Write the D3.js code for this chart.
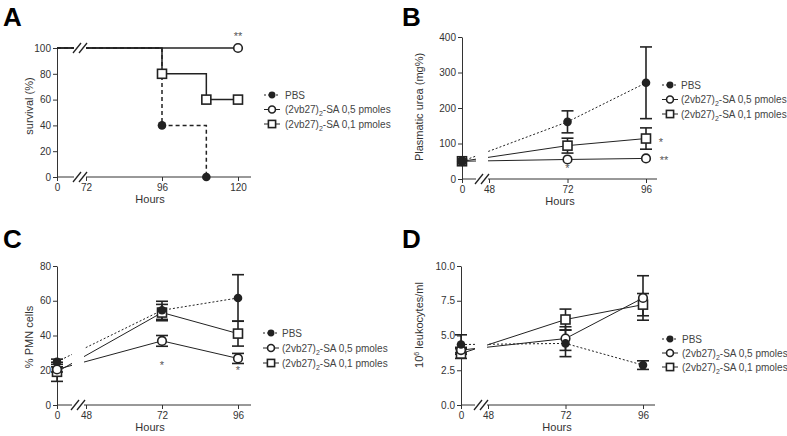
<!DOCTYPE html>
<html>
<head>
<meta charset="utf-8">
<script src="https://cdn.jsdelivr.net/npm/d3@7"></script>
<style>
  body { margin: 0; background: #fff; }
  svg { font-family: "Liberation Sans", Arial, sans-serif; }
  .tick text { fill: #333; font-size: 10px; }
  .tick line { stroke: #333; }
  .domain { stroke: #333; }
</style>
</head>
<body>
<div id="chart"></div>
<script>
// ---------- data ----------
var seriesNames = ["PBS", "0,5", "0,1"];

// A: survival (%), Kaplan-Meier steps
var survTicksX = [0, 72, 96, 120];
var survPBS = [[0, 100], [96, 40], [110, 0]];
var surv05 = [[0, 100], [120, 100]];
var surv01 = [[0, 100], [96, 80], [110, 60], [120, 60]];
var survMarkPBS = [[96, 40], [110, 0]];
var survMark05 = [[120, 100]];
var survMark01 = [[96, 80], [110, 60], [120, 60]];

// B, C, D share sampling times
var hours = [0, 72, 96];
var hourTicks = [0, 48, 72, 96];

// B: plasmatic urea (mg%)
var ureaPBS = [50, 161, 271], ureaPBSerr = [0, 31, 101];
var urea05 = [50, 55, 58], urea05err = [0, 0, 0];
var urea01 = [50, 94, 114], urea01err = [0, 21, 30];

// C: % PMN cells
var pmnPBS = [24.9, 54.5, 61.6], pmnPBSerr = [1.5, 5.2, 13.4];
var pmn05 = [20.5, 36.9, 26.8], pmn05err = [1.5, 3.1, 2.9];
var pmn01 = [19.1, 53.2, 41.1], pmn01err = [5.5, 4.7, 7.2];

// D: 10^6 leukocytes/ml
var leuPBS = [4.35, 4.43, 2.87], leuPBSerr = [0.7, 0.95, 0.31];
var leu05 = [3.95, 4.78, 7.7], leu05err = [0.2, 0.85, 1.6];
var leu01 = [3.7, 6.15, 7.22], leu01err = [0.35, 0.75, 0.8];

// ---------- svg ----------
var svg = d3.select("#chart").append("svg")
  .attr("width", 787)
  .attr("height", 436);

var ink = "#222";

function marker(g, kind, cx, cy, s) {
  s = s || 1;
  if (kind == "PBS") {
    g.append("circle").attr("cx", cx).attr("cy", cy).attr("r", 4.3 * s)
      .attr("fill", ink);
  } else if (kind == "0,5") {
    g.append("circle").attr("cx", cx).attr("cy", cy).attr("r", 4.3 * s)
      .attr("fill", "#fff").attr("stroke", ink).attr("stroke-width", 1.6);
  } else {
    g.append("rect").attr("x", cx - 4.5 * s).attr("y", cy - 4.5 * s)
      .attr("width", 9 * s).attr("height", 9 * s)
      .attr("fill", "#fff").attr("stroke", ink).attr("stroke-width", 1.6);
  }
}

// axes + break for one panel
function frame(p) {
  var g = svg.append("g");
  var y = p.y, x = p.x;
  var x0 = x.range()[0], yb = y.range()[0];

  g.append("g")
    .attr("transform", `translate(${x0},0)`)
    .call(d3.axisLeft(y).tickValues(p.yTicks).tickSize(4).tickSizeOuter(0)
      .tickPadding(2).tickFormat(p.yFormat || d3.format("d")));

  var xa = g.append("g")
    .attr("transform", `translate(0,${yb})`)
    .call(d3.axisBottom(x).tickValues(p.xTicks).tickSize(4).tickSizeOuter(0).tickPadding(3));
  xa.select(".domain").remove();
  g.append("line").attr("x1", x0).attr("x2", p.axisEnd)
    .attr("y1", yb).attr("y2", yb).attr("stroke", "#333");

  // axis titles
  g.append("text")
    .attr("x", p.xTitleX).attr("y", yb + 26)
    .attr("text-anchor", "middle").attr("font-size", 11).attr("fill", "#333")
    .text("Hours");
  var yt = g.append("text")
    .attr("transform", `translate(${p.yTitleX},${p.yTitleY}) rotate(-90)`)
    .attr("text-anchor", "middle").attr("font-size", 11).attr("fill", "#333");
  p.yTitle(yt);

  // panel letter
  svg.append("text").attr("x", p.letterX).attr("y", p.letterY)
    .attr("font-size", 26).attr("font-weight", "bold").attr("fill", "#000")
    .text(p.letter);
  return g;
}

function breakMarks(g, bx, yLine, top) {
  // white mask cuts lines and axis
  g.append("rect").attr("x", bx - 6).attr("y", top)
    .attr("width", 12).attr("height", yLine - top + 2).attr("fill", "#fff");
}

function slashes(g, bx, yy) {
  [-3, 3].forEach(function(o) {
    g.append("line")
      .attr("x1", bx + o - 4).attr("y1", yy + 5)
      .attr("x2", bx + o + 4).attr("y2", yy - 5)
      .attr("stroke", ink).attr("stroke-width", 1.3);
  });
}

function legend(g, lx, tx, y0, dy) {
  seriesNames.forEach(function(s, i) {
    var yy = y0 + i * dy;
    g.append("line").attr("x1", lx - 8).attr("x2", lx + 8)
      .attr("y1", yy).attr("y2", yy).attr("stroke", ink).attr("stroke-width", 1)
      .attr("stroke-dasharray", s == "PBS" ? "2,2" : null);
    marker(g, s, lx, yy, 0.8);
    var t = g.append("text").attr("x", tx).attr("y", yy + 3.5)
      .attr("font-size", 10).attr("fill", "#444");
    if (s == "PBS") { t.text("PBS"); return; }
    t.append("tspan").text("(2vb27)");
    t.append("tspan").attr("font-size", 7).attr("dy", 3).text("2");
    t.append("tspan").attr("dy", -3).text("-SA " + s + " pmoles");
  });
}

function star(g, x, y, s) {
  g.append("text").attr("x", x).attr("y", y).attr("text-anchor", "middle")
    .attr("font-size", 11).attr("fill", "#555").text(s);
}

// series over hours with sem bars
function drawSeries(g, x, y, data) {
  var line = d3.line().x((d, i) => x(hours[i])).y(d => y(d));
  data.forEach(function(d) {
    g.append("path").datum(d.v).attr("d", line).attr("fill", "none")
      .attr("stroke", ink).attr("stroke-width", 1)
      .attr("stroke-dasharray", d.name == "PBS" ? "2,2" : null);
  });
  return function() {
    data.forEach(function(d) {
      d.v.forEach(function(v, i) {
        if (!d.e[i]) return;
        var cx = x(hours[i]), hi = y(v + d.e[i]), lo = y(v - d.e[i]);
        g.append("line").attr("x1", cx).attr("x2", cx).attr("y1", hi).attr("y2", lo)
          .attr("stroke", ink).attr("stroke-width", 1.6);
        [hi, lo].forEach(function(yy) {
          g.append("line").attr("x1", cx - 6).attr("x2", cx + 6).attr("y1", yy).attr("y2", yy)
            .attr("stroke", ink).attr("stroke-width", 1.6);
        });
      });
    });
    data.slice().reverse().forEach(function(d) {
      d.v.forEach(function(v, i) { marker(g, d.name, x(hours[i]), y(v)); });
    });
  };
}

// ---------- A ----------
var xA = d3.scaleLinear().domain([0, 72, 120]).range([57, 86, 238]);
var yA = d3.scaleLinear().domain([0, 100]).range([177, 48]);
var gA = frame({
  x: xA, y: yA, xTicks: survTicksX, yTicks: [0, 20, 40, 60, 80, 100], axisEnd: 251,
  xTitleX: 150, yTitleX: 33, yTitleY: 106, letter: "A", letterX: 3, letterY: 26,
  yTitle: t => t.text("survival (%)")
});
var step = d3.line().curve(d3.curveStepAfter).x(d => xA(d[0])).y(d => yA(d[1]));
gA.append("path").datum(survPBS).attr("d", step).attr("fill", "none")
  .attr("stroke", ink).attr("stroke-width", 1.5).attr("stroke-dasharray", "4,3");
[surv05, surv01].forEach(function(s) {
  gA.append("path").datum(s).attr("d", step).attr("fill", "none")
    .attr("stroke", ink).attr("stroke-width", 1.5);
});
breakMarks(gA, 80, 177, 44);
slashes(gA, 80, 48);
slashes(gA, 80, 177);
survMarkPBS.forEach(d => marker(gA, "PBS", xA(d[0]), yA(d[1])));
survMark05.forEach(d => marker(gA, "0,5", xA(d[0]), yA(d[1])));
survMark01.forEach(d => marker(gA, "0,1", xA(d[0]), yA(d[1])));
star(gA, 238, 40, "**");
legend(gA, 272, 285, 95, 14.5);

// ---------- B ----------
var xB = d3.scaleLinear().domain([0, 48, 96]).range([462, 489, 646]);
var yB = d3.scaleLinear().domain([0, 400]).range([179, 37]);
var gB = frame({
  x: xB, y: yB, xTicks: hourTicks, yTicks: [0, 100, 200, 300, 400], axisEnd: 657,
  xTitleX: 560, yTitleX: 423, yTitleY: 107, letter: "B", letterX: 402, letterY: 26,
  yTitle: t => t.text("Plasmatic urea (mg%)")
});
var finishB = drawSeries(gB, xB, yB, [
  {name: "PBS", v: ureaPBS, e: ureaPBSerr},
  {name: "0,5", v: urea05, e: urea05err},
  {name: "0,1", v: urea01, e: urea01err}
]);
breakMarks(gB, 482, 179, 37);
slashes(gB, 482, 179);
finishB();
star(gB, xB(72), 172, "*");
star(gB, 661, 146, "*");
star(gB, 664, 164, "**");
legend(gB, 670, 681, 85, 14.5);

// ---------- C ----------
var xC = d3.scaleLinear().domain([0, 48, 96]).range([57, 86, 238]);
var yC = d3.scaleLinear().domain([0, 80]).range([405, 266]);
var gC = frame({
  x: xC, y: yC, xTicks: hourTicks, yTicks: [0, 20, 40, 60, 80], axisEnd: 251,
  xTitleX: 150, yTitleX: 33, yTitleY: 337, letter: "C", letterX: 3, letterY: 248,
  yTitle: t => t.text("% PMN cells")
});
var finishC = drawSeries(gC, xC, yC, [
  {name: "PBS", v: pmnPBS, e: pmnPBSerr},
  {name: "0,5", v: pmn05, e: pmn05err},
  {name: "0,1", v: pmn01, e: pmn01err}
]);
breakMarks(gC, 78, 405, 266);
slashes(gC, 78, 405);
finishC();
star(gC, xC(72), 369, "*");
star(gC, xC(96), 374, "*");
legend(gC, 271, 282, 333, 15);

// ---------- D ----------
var xD = d3.scaleLinear().domain([0, 48, 96]).range([461, 488, 643]);
var yD = d3.scaleLinear().domain([0, 10]).range([405, 266]);
var gD = frame({
  x: xD, y: yD, xTicks: hourTicks, yTicks: [0, 2.5, 5, 7.5, 10], axisEnd: 655,
  xTitleX: 557, yTitleX: 423, yTitleY: 325, letter: "D", letterX: 402, letterY: 248,
  yFormat: d3.format(".1f"),
  yTitle: function(t) {
    t.append("tspan").text("10");
    t.append("tspan").attr("font-size", 7).attr("dy", -4).text("6");
    t.append("tspan").attr("dy", 4).text(" leukocytes/ml");
  }
});
var finishD = drawSeries(gD, xD, yD, [
  {name: "PBS", v: leuPBS, e: leuPBSerr},
  {name: "0,5", v: leu05, e: leu05err},
  {name: "0,1", v: leu01, e: leu01err}
]);
breakMarks(gD, 481, 405, 266);
slashes(gD, 481, 405);
finishD();
legend(gD, 670, 682, 339, 14);
</script>
</body>
</html>
